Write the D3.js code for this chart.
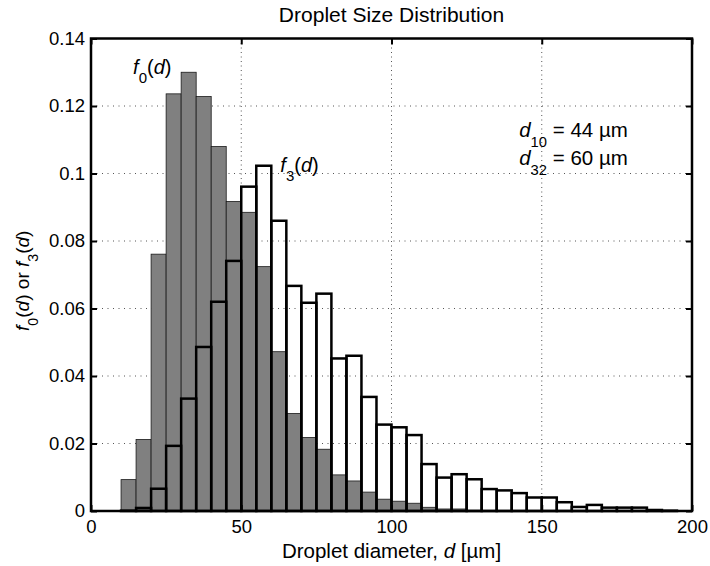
<!DOCTYPE html>
<html>
<head>
<meta charset="utf-8">
<script src="https://cdn.jsdelivr.net/npm/d3@7"></script>
<style>
  html, body { margin: 0; padding: 0; background: #fff; }
  svg { display: block; font-family: "Liberation Sans", Arial, Helvetica, sans-serif; }
</style>
</head>
<body>
<svg id="chart" width="710" height="566"></svg>
<script>
// ---- data ----
const binStarts = [10, 15, 20, 25, 30, 35, 40, 45, 50, 55, 60, 65, 70, 75, 80, 85, 90, 95,
  100, 105, 110, 115, 120, 125, 130, 135, 140, 145, 150, 155, 160, 165, 170, 175, 180, 185, 190];
const binWidth = 5;
const f0Values = [0.0093, 0.0212, 0.0761, 0.1236, 0.1300, 0.1228, 0.1080, 0.0917, 0.0885, 0.0724,
  0.0472, 0.0289, 0.0218, 0.0183, 0.0107, 0.0089, 0.0056, 0.0035, 0.0029, 0.0023,
  0.0011, 0.0006, 0.0006, 0.0002, 0.0001, 0.0001, 0.0001, 0, 0, 0, 0, 0, 0, 0, 0, 0, 0];
const f3Values = [0.0001, 0.0009, 0.0066, 0.0193, 0.0333, 0.0486, 0.0620, 0.0741, 0.0961, 0.1023,
  0.0860, 0.0667, 0.0617, 0.0644, 0.0452, 0.0460, 0.0338, 0.0256, 0.0248, 0.0225,
  0.0139, 0.0099, 0.0109, 0.0094, 0.0065, 0.0061, 0.0053, 0.0040, 0.0040, 0.0026,
  0.0012, 0.0018, 0.0010, 0.0010, 0.0010, 0.0003, 0.0001];
const xTicks = [0, 50, 100, 150, 200];
const xTickLabels = ["0", "50", "100", "150", "200"];
const yTicks = [0, 0.02, 0.04, 0.06, 0.08, 0.1, 0.12, 0.14];
const yTickLabels = ["0", "0.02", "0.04", "0.06", "0.08", "0.1", "0.12", "0.14"];
const titleText = "Droplet Size Distribution";
const d10 = 44, d32 = 60;

// ---- layout ----
const svg = d3.select("#chart");
const M = { left: 91, right: 692, top: 38.5, bottom: 511 };
const x = d3.scaleLinear().domain([0, 200]).range([M.left, M.right]);
const y = d3.scaleLinear().domain([0, 0.14]).range([M.bottom, M.top]);
const FS = 18.5;     // tick labels
const LFS = 20.5;    // labels / title / annotations

const bins = binStarts.map((s, i) => ({ s, f0: f0Values[i], f3: f3Values[i] }));

// grid (dotted)
const grid = svg.append("g");
grid.selectAll("line.gx").data(xTicks.filter(t => t > 0 && t < 200)).join("line")
  .attr("x1", d => x(d)).attr("x2", d => x(d))
  .attr("y1", M.top).attr("y2", M.bottom)
  .attr("stroke", "#555").attr("stroke-width", 1).attr("stroke-dasharray", "1,3.5");
grid.selectAll("line.gy").data(yTicks.filter(t => t > 0 && t < 0.14)).join("line")
  .attr("x1", M.left).attr("x2", M.right)
  .attr("y1", d => y(d)).attr("y2", d => y(d))
  .attr("stroke", "#555").attr("stroke-width", 1).attr("stroke-dasharray", "1,4.5");

// f0 bars (grey filled)
svg.append("g").selectAll("rect").data(bins.filter(b => b.f0 > 0)).join("rect")
  .attr("x", d => x(d.s)).attr("width", d => x(d.s + binWidth) - x(d.s))
  .attr("y", d => y(d.f0)).attr("height", d => y(0) - y(d.f0))
  .attr("fill", "#808080").attr("stroke", "#1a1a1a").attr("stroke-width", 0.8);

// f3 bars (outline only)
svg.append("g").selectAll("rect").data(bins.filter(b => b.f3 > 0)).join("rect")
  .attr("x", d => x(d.s)).attr("width", d => x(d.s + binWidth) - x(d.s))
  .attr("y", d => y(d.f3)).attr("height", d => y(0) - y(d.f3))
  .attr("fill", "none").attr("stroke", "#000").attr("stroke-width", 2.5);

// axes box
svg.append("rect").attr("x", M.left).attr("y", M.top)
  .attr("width", M.right - M.left).attr("height", M.bottom - M.top)
  .attr("fill", "none").attr("stroke", "#000").attr("stroke-width", 2.5);

// ticks (inward, all four sides) via d3 axes
function styleAxis(g) {
  g.select(".domain").remove();
  g.selectAll(".tick line").attr("stroke", "#000").attr("stroke-width", 2);
  g.selectAll(".tick text").attr("fill", "#000").attr("font-size", FS)
    .attr("font-family", "'Liberation Sans', Arial, sans-serif");
}
svg.append("g").attr("transform", `translate(0,${M.bottom})`)
  .call(d3.axisBottom(x).tickValues(xTicks).tickSize(-6).tickPadding(9)
    .tickFormat((d, i) => xTickLabels[i]))
  .call(styleAxis);
svg.append("g").attr("transform", `translate(0,${M.top})`)
  .call(d3.axisTop(x).tickValues(xTicks).tickSize(-6).tickFormat(""))
  .call(styleAxis);
svg.append("g").attr("transform", `translate(${M.left},0)`)
  .call(d3.axisLeft(y).tickValues(yTicks).tickSize(-6).tickPadding(6)
    .tickFormat((d, i) => yTickLabels[i]))
  .call(styleAxis);
svg.append("g").attr("transform", `translate(${M.right},0)`)
  .call(d3.axisRight(y).tickValues(yTicks).tickSize(-6).tickFormat(""))
  .call(styleAxis);

// title
svg.append("text").attr("x", (M.left + M.right) / 2).attr("y", 22)
  .attr("text-anchor", "middle").attr("font-size", 21).text(titleText);

// x label
const xl = svg.append("text").attr("x", (M.left + M.right) / 2).attr("y", 558)
  .attr("text-anchor", "middle").attr("font-size", LFS);
xl.append("tspan").text("Droplet diameter, ");
xl.append("tspan").attr("font-style", "italic").text("d");
xl.append("tspan").text(" [\u00b5m]");

// helper for f_n(d) rich text
function fText(sel, sub, fs) {
  sel.append("tspan").attr("font-style", "italic").text("f");
  sel.append("tspan").attr("font-size", fs * 0.75).attr("dy", fs * 0.45).text(sub);
  sel.append("tspan").attr("dy", -fs * 0.45).text("(");
  sel.append("tspan").attr("font-style", "italic").text("d");
  sel.append("tspan").text(")");
}

// y label (rotated)
const yl = svg.append("text").attr("font-size", 19).attr("text-anchor", "middle")
  .attr("transform", `translate(29,${(M.top + M.bottom) / 2 + 6}) rotate(-90)`);
fText(yl, "0", 19);
yl.append("tspan").text(" or ");
fText(yl, "3", 19);

// annotations
const a0 = svg.append("text").attr("x", x(14)).attr("y", y(0.1295)).attr("font-size", 20);
fText(a0, "0", 20);
const a3 = svg.append("text").attr("x", x(63)).attr("y", y(0.1005)).attr("font-size", 20);
fText(a3, "3", 20);

function dText(sel, sub, val) {
  sel.append("tspan").attr("font-style", "italic").text("d");
  sel.append("tspan").attr("font-size", LFS * 0.72).attr("dy", LFS * 0.5).text(sub);
  sel.append("tspan").attr("dy", -LFS * 0.5).text(" = " + val + " \u00b5m");
}
const t10 = svg.append("text").attr("x", x(142.5)).attr("y", y(0.1109)).attr("font-size", LFS);
dText(t10, "10", d10);
const t32 = svg.append("text").attr("x", x(142.5)).attr("y", y(0.1025)).attr("font-size", LFS);
dText(t32, "32", d32);
</script>
</body>
</html>
